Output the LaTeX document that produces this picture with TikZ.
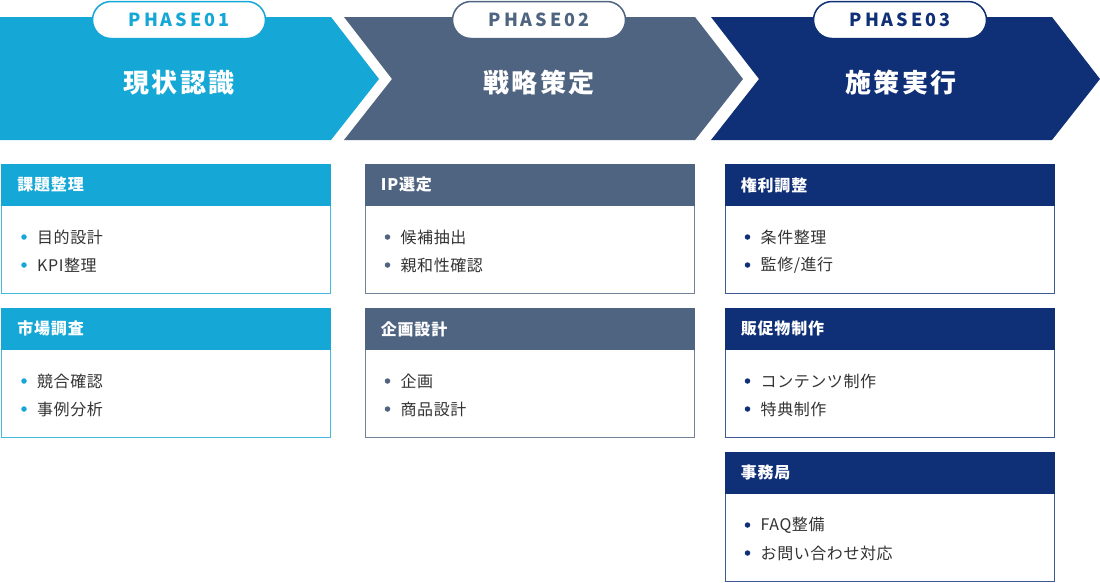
\documentclass[tikz,border=0pt]{standalone}
\usepackage{fontspec}
\setmainfont{Noto Sans CJK JP}
\newfontfamily\jp{Noto Sans CJK JP}
\definecolor{pA}{HTML}{15A7D6}
\definecolor{pB}{HTML}{4F6480}
\definecolor{pC}{HTML}{0F2F77}
\definecolor{txt}{HTML}{333333}
\tikzset{
  phasearrow/.style={fill=#1, draw=none},
  phasetitle/.style={text=white, inner sep=0pt, font=\jp\bfseries\fontsize{26}{26}\selectfont\addfontfeature{LetterSpace=9}},
  pill/.style={draw=#1, fill=white, line width=1.5pt, rounded corners=18.5pt, minimum width=173pt, minimum height=37pt, inner sep=0pt, text=#1, font=\jp\bfseries\fontsize{18}{18}\selectfont\addfontfeature{LetterSpace=16}},
  cardhead/.style={fill=#1, draw=#1, line width=0.8pt, minimum width=329pt, minimum height=41pt, text width=297pt, inner xsep=16pt, inner ysep=0pt, align=left, text=white, font=\jp\bfseries\fontsize{16}{16}\selectfont\addfontfeature{LetterSpace=5}},
  cardbody/.style={fill=white, draw=#1!80, line width=0.8pt, minimum width=329pt, minimum height=88pt, inner sep=0pt},
  dot/.style={circle, fill=#1, inner sep=0pt, minimum size=5.5pt},
  item/.style={inner sep=0pt, text=txt, font=\jp\fontsize{16}{16}\selectfont\addfontfeature{LetterSpace=3.5}},
}
\newcommand\pcard[7]{%
  \node[cardbody=#2, anchor=north west] (#1b) at (#3,#4+41) {};
  \node[cardhead=#2, anchor=north west] (#1h) at (#3,#4) {#5};
  \node[dot=#2] (#1d1) at (#3+23,#4+73) {};
  \node[item, anchor=west] (#1t1) at (#3+36,#4+73) {#6};
  \node[dot=#2] (#1d2) at (#3+23,#4+101) {};
  \node[item, anchor=west] (#1t2) at (#3+36,#4+101) {#7};
}
\begin{document}
\begin{tikzpicture}[x=1pt,y=-1pt]
\useasboundingbox (0,0) rectangle (1100,582);
% phase arrows
\fill[phasearrow=pA] (0,17) -- (331,17) -- (379,79) -- (331,140) -- (0,140) -- cycle;
\fill[phasearrow=pB] (344,17) -- (695,17) -- (743,79) -- (695,140) -- (344,140) -- (392,79) -- cycle;
\fill[phasearrow=pC] (711,17) -- (1052,17) -- (1100,79) -- (1052,140) -- (711,140) -- (759,79) -- cycle;
% titles
\node[phasetitle] (t1) at (179,83) {現状認識};
\node[phasetitle] (t2) at (539,83) {戦略策定};
\node[phasetitle] (t3) at (901,83) {施策実行};
% pills
\node[pill=pA] (p1) at (179,20) {PHASE01};
\node[pill=pB] (p2) at (539,20) {PHASE02};
\node[pill=pC] (p3) at (900,20) {PHASE03};
% cards
\pcard{a1}{pA}{1}{164}{課題整理}{目的設計}{KPI整理}
\pcard{a2}{pA}{1}{308}{市場調査}{競合確認}{事例分析}
\pcard{b1}{pB}{364.5}{164}{IP選定}{候補抽出}{親和性確認}
\pcard{b2}{pB}{364.5}{308}{企画設計}{企画}{商品設計}
\pcard{c1}{pC}{724.5}{164}{権利調整}{条件整理}{監修/進行}
\pcard{c2}{pC}{724.5}{308}{販促物制作}{コンテンツ制作}{特典制作}
\pcard{c3}{pC}{724.5}{452}{事務局}{FAQ整備}{お問い合わせ対応}
\end{tikzpicture}
\end{document}
